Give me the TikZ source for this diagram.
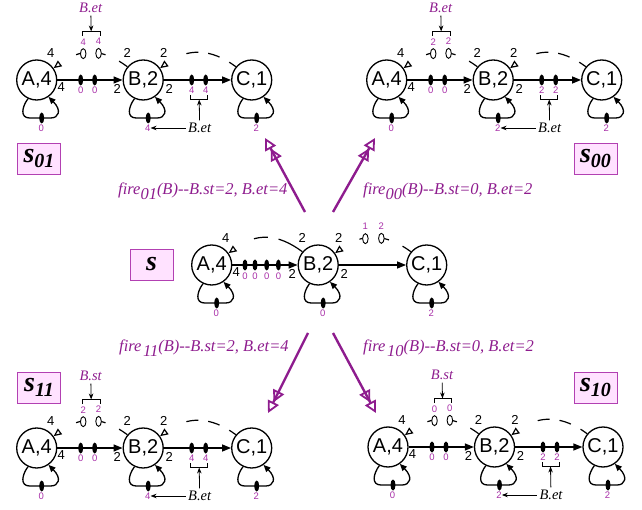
\documentclass[tikz,border=0pt]{standalone}
\usepackage{fontspec}
\setmainfont{Liberation Serif}
\setsansfont{Liberation Sans}
\usetikzlibrary{arrows.meta,shapes.geometric,calc}

\definecolor{netpurple}{RGB}{142,28,142}
\definecolor{toklabel}{RGB}{168,48,168}
\definecolor{boxfill}{RGB}{255,226,255}
\definecolor{boxedge}{RGB}{178,64,178}

\tikzset{
  actor/.style={circle,draw,line width=1.3pt,minimum size=40pt,inner sep=0pt,
    font=\sffamily\fontsize{20}{20}\selectfont},
  chan/.style={line width=1.3pt,-{Triangle[length=9pt,width=7pt]}},
  backchan/.style={line width=1.2pt,-{Triangle[open,length=8pt,width=7pt]}},
  loopchan/.style={line width=1.3pt,-{Triangle[length=7pt,width=6pt]}},
  tok/.style={ellipse,fill=black,minimum width=5pt,minimum height=11pt,inner sep=0pt},
  htok/.style={ellipse,draw,solid,fill=white,line width=0.9pt,minimum width=5.5pt,
    minimum height=10pt,inner sep=0pt},
  elab/.style={inner sep=0pt,font=\sffamily\fontsize{13}{13}\selectfont},
  tlab/.style={inner sep=0pt,text=toklabel,font=\sffamily\fontsize{9.5}{9.5}\selectfont},
  vnote/.style={inner sep=2.5pt,font=\itshape\fontsize{14.5}{14.5}\selectfont},
  notearrow/.style={line width=0.8pt,-{Stealth[length=6pt,width=4.5pt]}},
  bracket/.style={line width=0.8pt},
  firearrow/.style={netpurple,line width=2.4pt,
    -{Triangle[open,length=12pt,width=12pt,line width'=1.8pt]
      Triangle[open,length=12pt,width=12pt,line width'=1.8pt]}},
  firelab/.style={inner sep=0pt,text=netpurple,font=\itshape\fontsize{16.5}{16.5}\selectfont},
  statebox/.style={draw=boxedge,fill=boxfill,line width=0.9pt,minimum width=43pt,
    minimum height=31pt,inner sep=0pt,font=\bfseries\itshape\fontsize{28}{28}\selectfont},
}

% self-loop below an actor, carrying one token
\newcommand\selfloop[2]{%
  \draw[loopchan] (#1.245) .. controls +(-6,8) and +(-10,0) .. ($(#1)+(-7,38)$)
     -- ($(#1)+(14,38)$) .. controls +(8,0) and +(13.5,13.6) .. (#1.-55);
  \node[tok] (#1t) at ($(#1)+(5,38)$) {};
  \node[tlab] (#1l) at ($(#1)+(4.5,48)$) {#2};
}

% actors, forward channels, rates and self-loops shared by every net
\newcommand\netbody[5]{%
  \node[actor] (#1A) at (#2) {A,4};
  \node[actor] (#1B) at ($(#1A)+(106.5,0)$) {B,2};
  \node[actor] (#1C) at ($(#1A)+(215,0)$) {C,1};
  \draw[chan] (#1A) -- (#1B);
  \draw[chan] (#1B) -- (#1C);
  \node[elab] (#1r1) at ($(#1A)+(24.5,7.5)$) {4};
  \node[elab] (#1r2) at ($(#1A)+(80.5,9)$) {2};
  \node[elab] (#1r3) at ($(#1A)+(132.5,9)$) {2};
  \node[elab] (#1r4) at ($(#1A)+(14,-26.5)$) {4};
  \node[elab] (#1r5) at ($(#1A)+(90.5,-27)$) {2};
  \node[elab] (#1r6) at ($(#1A)+(127,-27)$) {2};
  \selfloop{#1A}{#3}\selfloop{#1B}{#4}\selfloop{#1C}{#5}%
}

% a successor state: two tokens on every channel of B
\newcommand\statenet[5]{%
  \netbody{#1}{#2}{0}{#4}{2}
  \draw[backchan,dash pattern=on 10pt off 15pt on 8pt off 14pt on 8pt off 80pt]
    (#1B.140) .. controls +(-25,-18.5) and +(27.6,-20.5) .. (#1A.35)
    node[htok,pos=0.40] (#1h1) {} node[htok,pos=0.615] (#1h2) {};
  \draw[backchan,dash pattern=on 8pt off 11pt on 12pt off 10pt on 12pt off 80pt]
    (#1C.140) .. controls +(-25,-18.5) and +(27.6,-20.5) .. (#1B.35);
  \node[tlab] (#1h1l) at ($(#1h1)+(0,-11.7)$) {#3};
  \node[tlab] (#1h2l) at ($(#1h2)+(0,-11.7)$) {#3};
  \node[tok] (#1p1) at ($(#1A)+(44,0)$) {};
  \node[tok] (#1p2) at ($(#1A)+(58,0)$) {};
  \node[tlab] (#1p1l) at ($(#1A)+(44,10.5)$) {0};
  \node[tlab] (#1p2l) at ($(#1A)+(58,10.5)$) {0};
  \node[tok] (#1q1) at ($(#1A)+(155,0)$) {};
  \node[tok] (#1q2) at ($(#1A)+(169,0)$) {};
  \node[tlab] (#1q1l) at ($(#1A)+(155,10.5)$) {#4};
  \node[tlab] (#1q2l) at ($(#1A)+(169,10.5)$) {#4};
  % bracket over the B->A tokens
  \draw[bracket] ($(#1A)+(46,-44)$) -- ($(#1A)+(46,-48.5)$) -- ($(#1A)+(63.5,-48.5)$)
     -- ($(#1A)+(63.5,-44)$);
  \coordinate (#1ub) at ($(#1A)+(54.5,-48.5)$);
  \node[vnote,text=netpurple] (#1uv) at ($(#1A)+(54,-72)$) {#5};
  \draw[notearrow] (#1uv) -- (#1ub);
  % bracket under the B->C tokens
  \draw[bracket] ($(#1A)+(154,15)$) -- ($(#1A)+(154,19.5)$) -- ($(#1A)+(171,19.5)$)
     -- ($(#1A)+(171,15)$);
  \coordinate (#1lb) at ($(#1A)+(162.5,19.5)$);
  \node[vnote] (#1lv) at ($(#1A)+(163,48)$) {B.et};
  \draw[notearrow] (#1lv) -- (#1lb);
  \draw[notearrow] (#1lv) -- (#1Bl);
}

\begin{document}
\begin{tikzpicture}[x=1pt,y=-1pt]
\path[use as bounding box] (0,0) rectangle (642,510);

% initial state s
\netbody{s}{211.7,265}{0}{0}{2}
\draw[backchan,dash pattern=on 27pt off 11pt on 14pt off 80pt]
  (sB.140) .. controls +(-25,-18.5) and +(27.6,-20.5) .. (sA.35);
\draw[backchan,dash pattern=on 10pt off 15pt on 8pt off 14pt on 8pt off 80pt]
  (sC.140) .. controls +(-25,-18.5) and +(27.6,-20.5) .. (sB.35)
  node[htok,pos=0.40] (sh2) {} node[htok,pos=0.615] (sh1) {};
\node[tlab] (sh1l) at ($(sh1)+(0,-12.5)$) {1};
\node[tlab] (sh2l) at ($(sh2)+(0,-12.5)$) {2};
\foreach \k/\dx in {1/33.3,2/43.3,3/55,4/66.7}{
  \node[tok] (sp\k) at ($(sA)+(\dx,0)$) {};
  \node[tlab] (sp\k l) at ($(sA)+(\dx,11.5)$) {0};
}
\node[statebox] (bs) at (151.5,264.5) {s};

% successor states
\statenet{tl}{36.7,80}{4}{4}{B.et}
\statenet{tr}{386.7,80}{2}{2}{B.et}
\statenet{bl}{36.7,448}{2}{4}{B.st}
\statenet{br}{388,447}{0}{2}{B.st}

\node[statebox] (b01) at (39,159) {s\raisebox{-5pt}{\fontsize{20}{20}\selectfont 01}};
\node[statebox] (b00) at (595.5,159) {s\raisebox{-5pt}{\fontsize{20}{20}\selectfont 00}};
\node[statebox] (b11) at (39,387.5) {s\raisebox{-5pt}{\fontsize{20}{20}\selectfont 11}};
\node[statebox] (b10) at (595.5,387.5) {s\raisebox{-5pt}{\fontsize{20}{20}\selectfont 10}};

% firings of B
\coordinate (f1s) at (305,212); \coordinate (f1e) at (265,138);
\coordinate (f2s) at (333,212); \coordinate (f2e) at (375,138);
\coordinate (f3s) at (308,333); \coordinate (f3e) at (268,413);
\coordinate (f4s) at (333,333); \coordinate (f4e) at (376,413);
\draw[firearrow] (f1s) -- (f1e);
\draw[firearrow] (f2s) -- (f2e);
\draw[firearrow] (f3s) -- (f3e);
\draw[firearrow] (f4s) -- (f4e);

\node[firelab,anchor=base west] (l01) at (118,195)
  {fire\raisebox{-5pt}{01}(B)-{}-B.st=2, B.et=4};
\node[firelab,anchor=base west] (l00) at (363,195)
  {fire\raisebox{-5pt}{00}(B)-{}-B.st=0, B.et=2};
\node[firelab,anchor=base west] (l11) at (119,352)
  {fire\kern1.5pt\raisebox{-5pt}{11}(B)-{}-B.st=2, B.et=4};
\node[firelab,anchor=base west] (l10) at (363,352)
  {fire\kern1.5pt\raisebox{-5pt}{10}(B)-{}-B.st=0, B.et=2};
\end{tikzpicture}
\end{document}
